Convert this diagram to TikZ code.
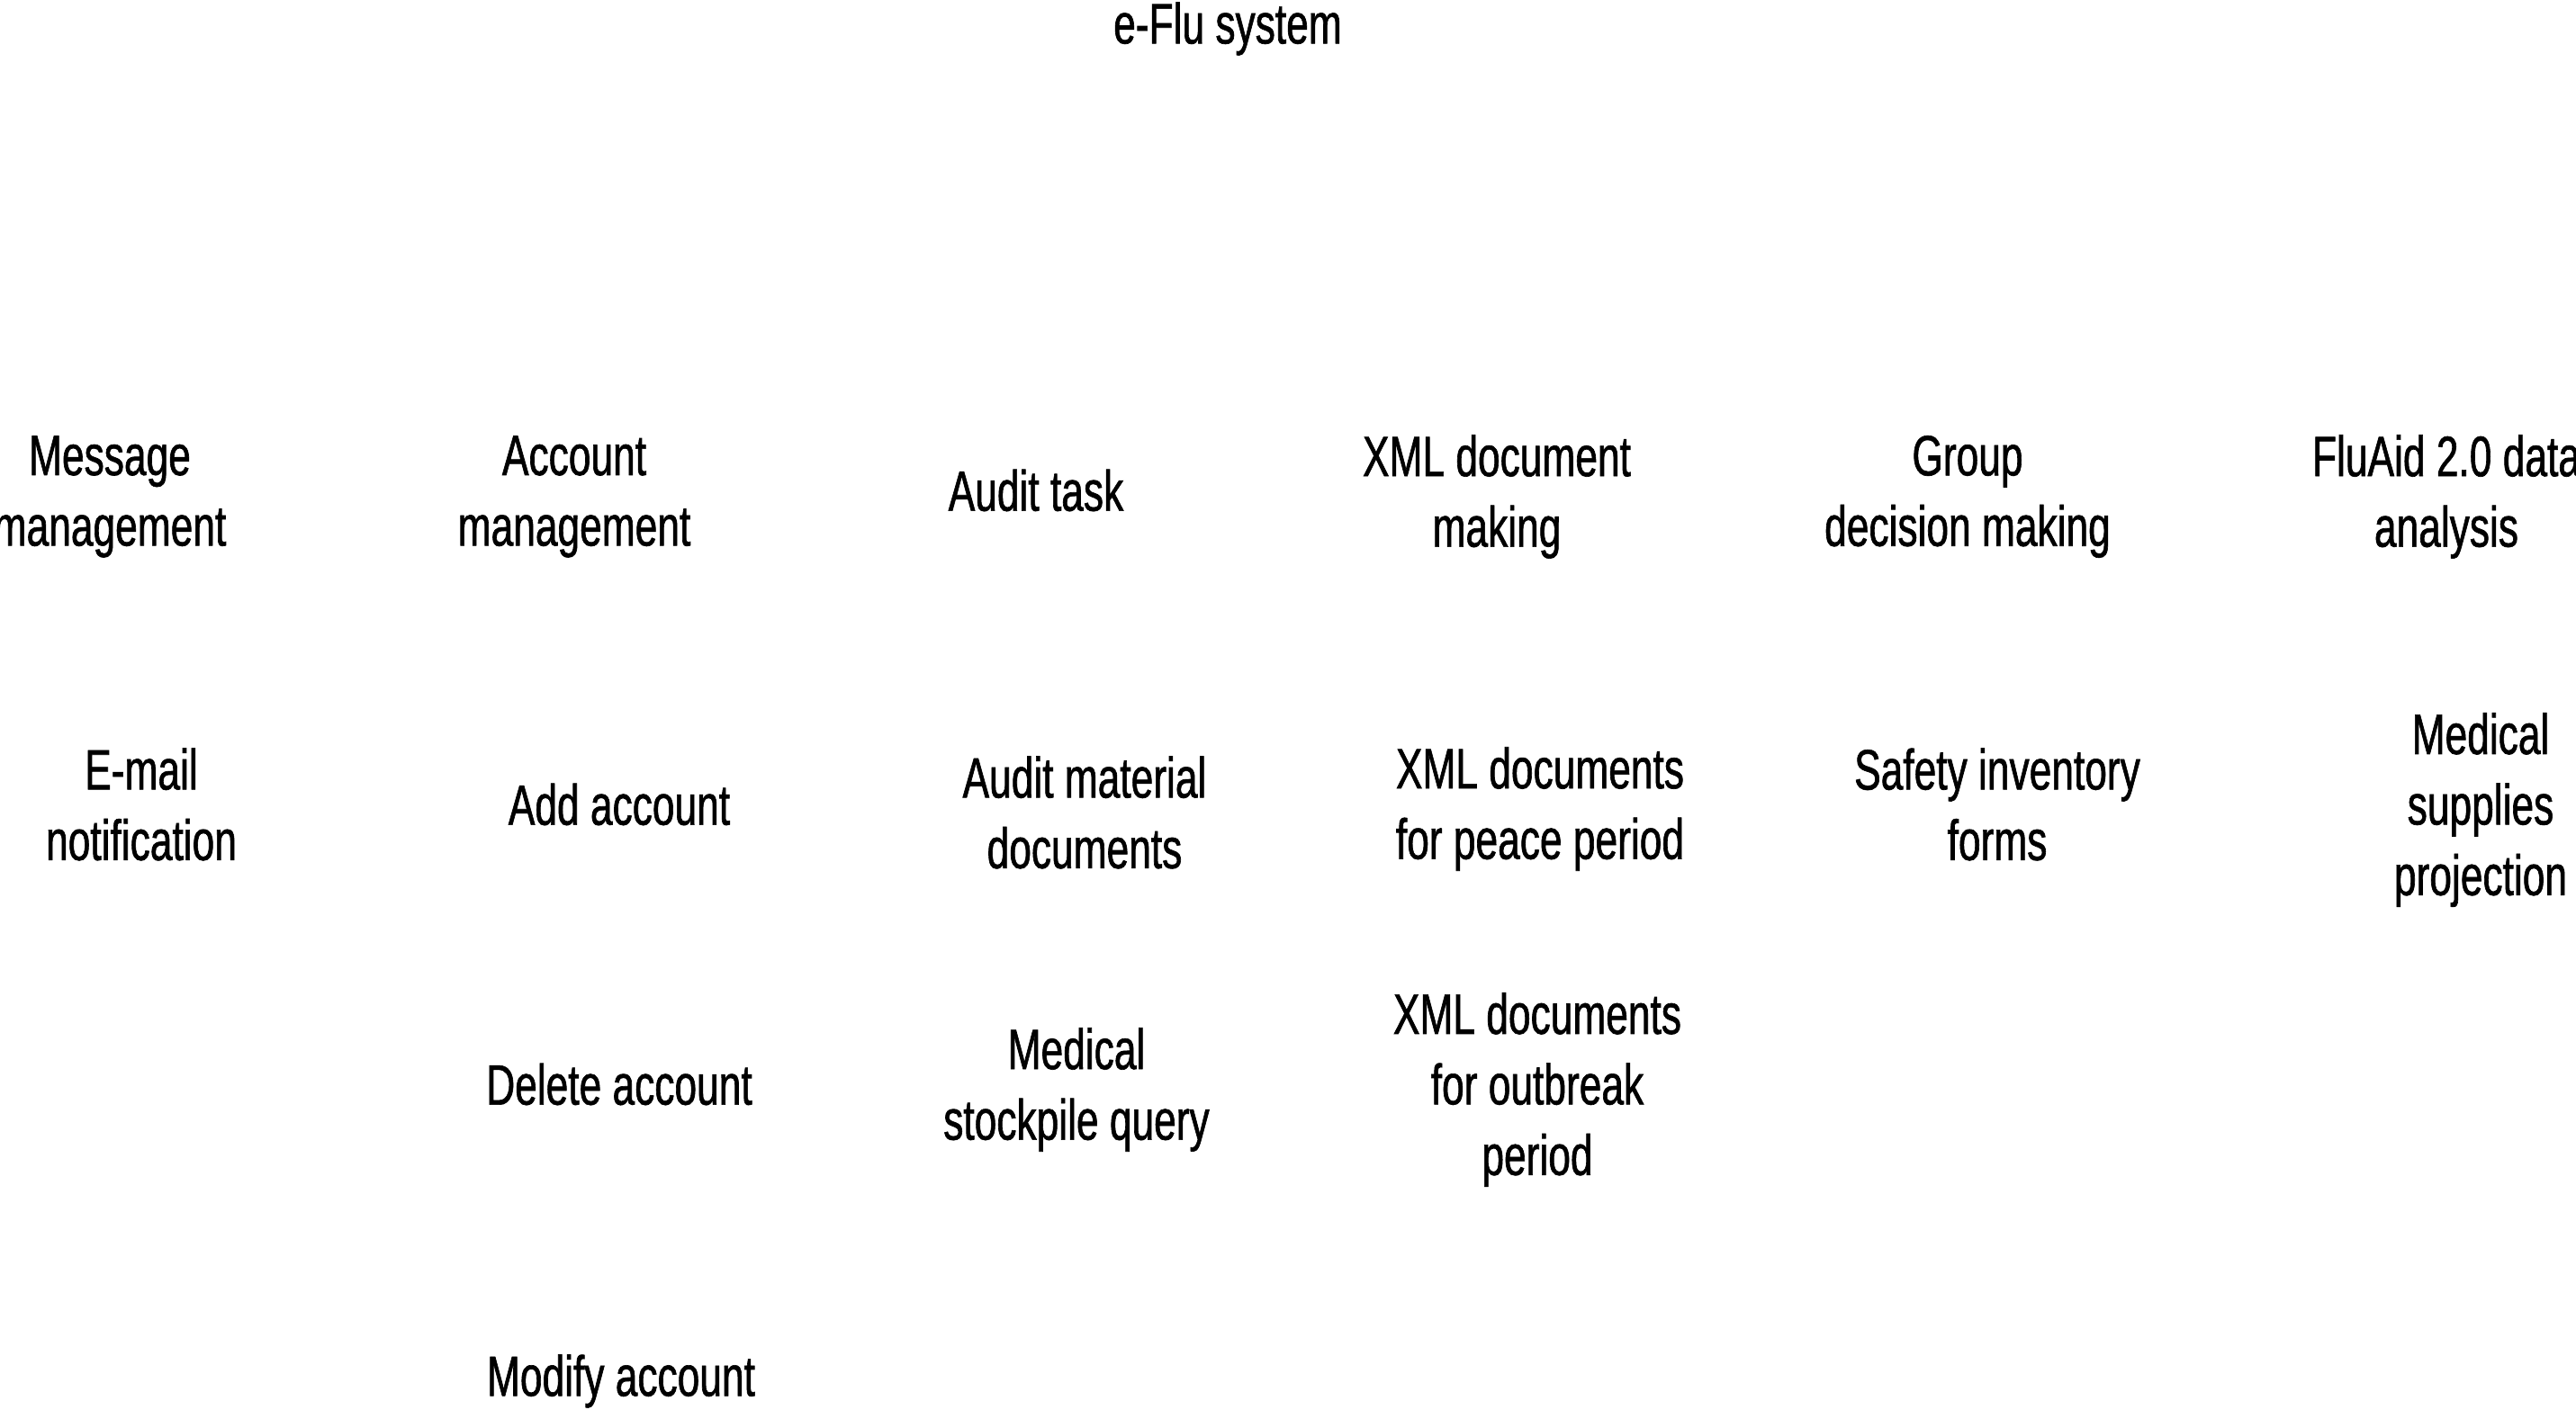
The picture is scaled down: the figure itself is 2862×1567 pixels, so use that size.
\documentclass[tikz,border=0pt]{standalone}
\usepackage{fontspec}
\setmainfont[FakeStretch=0.7, FakeBold=1]{Liberation Sans}
\usetikzlibrary{positioning}
\tikzset{
    task/.style={align=center, inner sep=0pt, font=\fontsize{18}{22.3}\selectfont}
}

\begin{document}
\begin{tikzpicture}[x=0.01cm, y=-0.01cm]
        \useasboundingbox (0, 0) rectangle (2862, 1567);
        \node[task] (system) at (1364, 32) {e-Flu system};
        % first level
        \node[task] (message) at (122, 552) {Message\\management};
        \node[task] (account) at (638, 552) {Account\\management};
        \node[task] (audit) at (1151, 545) {Audit task};
        \node[task] (xml) at (1663, 552) {XML document\\making};
        \node[task] (group) at (2186, 552) {Group\\decision making};
        \node[task] (fluaid) at (2718, 552) {FluAid 2.0 data\\analysis};
        % second level
        \node[task] (email) at (157, 894) {E-mail\\notification};
        \node[task] (addacc) at (688, 894) {Add account};
        \node[task] (auditdoc) at (1205, 903) {Audit material\\documents};
        \node[task] (xmlpeace) at (1711, 899) {XML documents\\for peace period};
        \node[task] (safety) at (2219, 894) {Safety inventory\\forms};
        \node[task] (supplies) at (2756, 900) {Medical\\supplies\\projection};
        % third and fourth level
        \node[task] (delacc) at (688, 1205) {Delete account};
        \node[task] (stockpile) at (1196, 1211) {Medical\\stockpile query};
        \node[task] (xmloutbreak) at (1708, 1211) {XML documents\\for outbreak\\period};
        \node[task] (modacc) at (690, 1535) {Modify account};
    \end{tikzpicture}
\end{document}
